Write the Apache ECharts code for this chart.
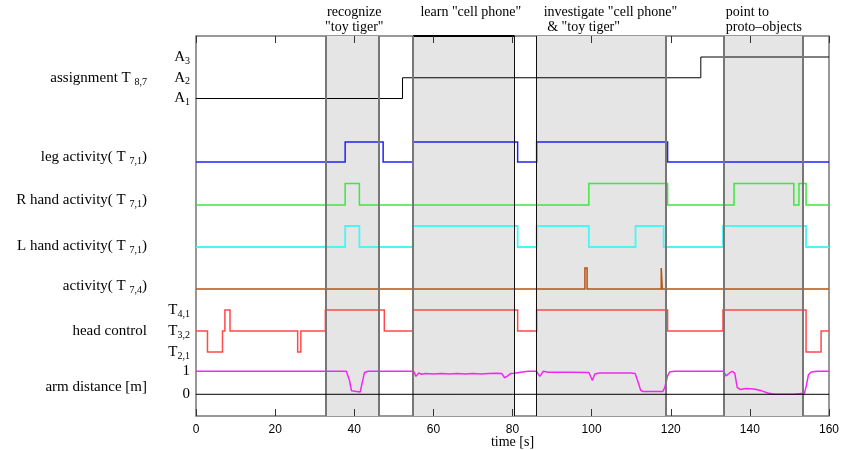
<!DOCTYPE html>
<html><head><meta charset="utf-8">
<script src="https://cdn.jsdelivr.net/npm/echarts@6/dist/echarts.min.js"></script>
<style>html,body{margin:0;padding:0;background:#fff}#c{width:844px;height:450px}</style>
</head><body><div id="c"></div>
<script>
// ---- data ----
const xMin = 0, xMax = 160, xStep = 20;
const phases = [[32.7, 46.3], [54.9, 80.5], [86.1, 118.7], [133.4, 153.4]];
const phaseNames = ['recognize\n"toy tiger"', 'learn "cell phone"', 'investigate "cell phone"\n & "toy tiger"', 'point to\nproto\u2013objects'];
const phaseLines = [32.7, 46.3, 54.9, 80.5, 86.1, 118.7, 133.4, 153.4];
const learnBar = [[54.9, 1], [80.5, 1]];
const assignment = [[0, 1], [52.2, 2], [127.6, 3], [160, 3]];
const assignLabels = ['A|1', 'A|2', 'A|3'];
const legAct = [[0, 0], [37.7, 1], [47.3, 0], [54.9, 1], [81.3, 0], [86.1, 1], [119.2, 0], [160, 0]];
const rHandAct = [[0, 0], [37.7, 1], [41.3, 0], [99.3, 1], [119.2, 0], [136, 1], [151.1, 0], [152.4, 1], [154.2, 0], [160, 0]];
const lHandAct = [[0, 0], [37.7, 1], [41.3, 0], [54.8, 1], [81.3, 0], [86.1, 1], [99.3, 0], [111.1, 1], [118.2, 0], [133.2, 1], [154.2, 0], [160, 0]];
const act74 = [[0, 0], [98.3, 1], [98.85, 0], [117.6, 1], [117.85, 0], [160, 0]];
const headCtl = [[0, 2], [2.9, 1], [6.7, 2], [7.3, 3], [8.6, 2], [25.7, 1], [26.5, 2], [32.7, 3], [47.6, 2], [54.9, 3], [81.3, 2], [86.1, 3], [119.2, 2], [133.2, 3], [154.2, 1], [158, 2], [160, 2]];
const headLabels = ['T|2,1', 'T|3,2', 'T|4,1'];
const armDist = [[0, 1.0], [38.0, 1.0], [38.8, 0.6], [39.3, 0.15], [39.8, 0.08], [41.5, 0.1], [42.0, 0.5], [42.6, 0.95], [43.5, 1.0],
  [55.0, 1.0], [55.6, 0.78], [56.3, 0.93], [57, 0.87], [58, 0.9], [60, 0.88], [62, 0.9], [64, 0.88], [66, 0.9], [68, 0.88], [70, 0.9], [72, 0.88], [74, 0.9], [76, 0.91], [77.3, 0.9],
  [78.0, 0.72], [78.8, 0.8], [79.5, 0.9], [80.5, 0.92], [82, 0.96], [84, 1.0], [86, 1.0], [86.9, 0.78], [87.8, 1.0], [89, 0.96], [95, 0.96], [99.3, 0.95],
  [100.2, 0.6], [100.8, 0.88], [102, 0.93], [110, 0.93], [111, 0.9], [111.8, 0.5], [112.4, 0.17], [113, 0.12], [118, 0.12], [118.5, 0.3], [119.2, 0.8], [119.7, 0.97], [121, 1.0],
  [133.3, 1.0], [134.0, 0.8], [134.4, 0.72], [135.0, 0.95], [135.6, 1.0], [136.2, 0.9], [136.8, 0.3], [137.5, 0.21], [139, 0.25], [141, 0.23], [143, 0.15], [144.5, 0.06], [145.5, 0.02], [146.5, 0],
  [151, 0], [151.5, 0.05], [153.8, 0.05], [154.3, 0.4], [154.8, 0.85], [155.5, 0.97], [157, 1.0], [160, 1.0]];
const armLabels = ['0', '1'];
const zeroLine = [[0, 0], [160, 0]];
const rowTitles = [
  '{m|assignment T }{s|8,7}',
  '{m|leg activity( T }{s|7,1}{m|)}',
  '{m|R hand activity( T }{s|7,1}{m|)}',
  '{m|L hand activity( T }{s|7,1}{m|)}',
  '{m|activity( T }{s|7,4}{m|)}',
  '{m|head control}',
  '{m|arm distance [m]}'
];

// ---- layout/style ----
const SERIF = '"Liberation Serif", "DejaVu Serif", serif';
const SANS = '"Liberation Sans", Arial, sans-serif';
const L = 196, R = 15;
const rows = [ // top, height, min, max
  { top: 57, height: 41.5, min: 1, max: 3 },
  { top: 142, height: 20, min: 0, max: 1 },
  { top: 183.5, height: 21.5, min: 0, max: 1 },
  { top: 226, height: 21, min: 0, max: 1 },
  { top: 268, height: 21, min: 0, max: 1 },
  { top: 310, height: 42, min: 1, max: 3 },
  { top: 371.3, height: 23, min: 0, max: 1 }
];
const titleY = [78, 157, 200, 246, 286, 331, 387];

const richLbl = {
  m: { fontFamily: SERIF, fontSize: 15, color: '#000', lineHeight: 18 },
  s: { fontFamily: SERIF, fontSize: 10, color: '#000', lineHeight: 10, verticalAlign: 'bottom' }
};
function subFmt(arr) {
  return function (v) {
    const i = Math.round(v) - 1;
    const p = (arr[i] || '').split('|');
    return '{m|' + p[0] + '}{s|' + p[1] + '}';
  };
}

const grids = [{ left: L, right: R, top: 36, bottom: 34, show: true, borderColor: '#777', borderWidth: 1.5,
  backgroundColor: 'transparent', containLabel: false, outerBoundsMode: 'none' }];
const xAxes = [
  { gridIndex: 0, type: 'value', min: xMin, max: xMax, interval: xStep, position: 'bottom', z: 10,
    axisLine: { show: false }, splitLine: { show: false },
    axisTick: { inside: true, length: 7, lineStyle: { color: '#333' } },
    axisLabel: { fontFamily: SANS, fontSize: 12, color: '#000', margin: 8 },
    name: 'time [s]', nameLocation: 'middle', nameGap: 19, nameMoveOverlap: false,
    nameTextStyle: { fontFamily: SERIF, fontSize: 14, color: '#000' } }
];
const topAxis = { gridIndex: 0, type: 'value', min: xMin, max: xMax, interval: xStep, position: 'top', z: 10,
    axisLine: { show: false }, splitLine: { show: false },
    axisTick: { inside: true, length: 7, lineStyle: { color: '#333' } }, axisLabel: { show: false } };
const yAxes = [{ gridIndex: 0, type: 'value', min: 0, max: 1, show: false }];
rows.forEach((r, i) => {
  grids.push({ left: L, right: R, top: r.top, height: r.height, containLabel: false, outerBoundsMode: 'none' });
  xAxes.push({ gridIndex: i + 1, type: 'value', min: xMin, max: xMax, show: false });
  const y = { gridIndex: i + 1, type: 'value', min: r.min, max: r.max, interval: 1,
    axisLine: { show: false }, axisTick: { show: false }, splitLine: { show: false },
    axisLabel: { show: false } };
  if (i === 0) y.axisLabel = { show: true, margin: 6, formatter: subFmt(assignLabels), rich: richLbl };
  if (i === 5) y.axisLabel = { show: true, margin: 6, formatter: subFmt(headLabels), rich: richLbl };
  if (i === 6) y.axisLabel = { show: true, margin: 6, formatter: v => armLabels[Math.round(v)], fontFamily: SERIF, fontSize: 15, color: '#000' };
  yAxes.push(y);
});
xAxes.push(topAxis);

function stepSeries(gi, data, color, width, z) {
  return { type: 'line', xAxisIndex: gi, yAxisIndex: gi, data: data, step: 'end', symbol: 'none',
    lineStyle: { color: color, width: width || 1.5, join: 'miter' }, z: z || 3, clip: false, silent: true };
}

const labelPos = [
  { position: ['50%', -31], align: 'center', offset: [2, 0] },
  { position: ['50%', -31], align: 'center', offset: [7, 0] },
  { position: [7, -31], align: 'left' },
  { position: [2, -31], align: 'left' }
];
const blackLines = { 80.5: 1, 86.1: 1 };

const series = [
  { type: 'line', xAxisIndex: 0, yAxisIndex: 0, data: learnBar, symbol: 'none', clip: false, silent: true,
    lineStyle: { color: '#000', width: 2 }, z: 4,
    markArea: { silent: true, itemStyle: { color: '#e5e5e5' },
      data: phases.map((p, i) => [{ name: phaseNames[i], xAxis: p[0],
        label: Object.assign({ show: true, verticalAlign: 'top', fontFamily: SERIF, fontSize: 14, lineHeight: 15, color: '#000' }, labelPos[i]) },
        { xAxis: p[1] }]) },
    markLine: { silent: true, symbol: 'none', label: { show: false },
      data: phaseLines.map(x => ({ xAxis: x, lineStyle: blackLines[x] ? { color: '#111', width: 1, type: 'solid' } : { color: '#777', width: 2, type: 'solid' } })) }
  },
  stepSeries(1, assignment, '#000', 1),
  stepSeries(2, legAct, '#2222f2'),
  stepSeries(3, rHandAct, '#3ee83e'),
  stepSeries(4, lHandAct, '#4ef4f4', 1.8),
  stepSeries(5, act74, '#b9520f'),
  stepSeries(6, headCtl, '#ff4a4a'),
  { type: 'line', xAxisIndex: 7, yAxisIndex: 7, data: armDist, symbol: 'none', smooth: false,
    lineStyle: { color: '#f526f5', width: 1.5 }, z: 3, clip: false, silent: true },
  { type: 'line', xAxisIndex: 7, yAxisIndex: 7, data: zeroLine, symbol: 'none',
    lineStyle: { color: '#000', width: 1 }, z: 5, clip: false, silent: true }
];

const graphics = rowTitles.map((t, i) => ({
  type: 'text', x: 147, y: titleY[i], silent: true,
  style: { text: t, rich: richLbl, align: 'right', verticalAlign: 'middle' }
}));

const chart = echarts.init(document.getElementById('c'), null, { renderer: 'canvas' });
chart.setOption({
  animation: false,
  backgroundColor: '#fff',
  grid: grids, xAxis: xAxes, yAxis: yAxes, series: series, graphic: graphics
});
</script></body></html>
